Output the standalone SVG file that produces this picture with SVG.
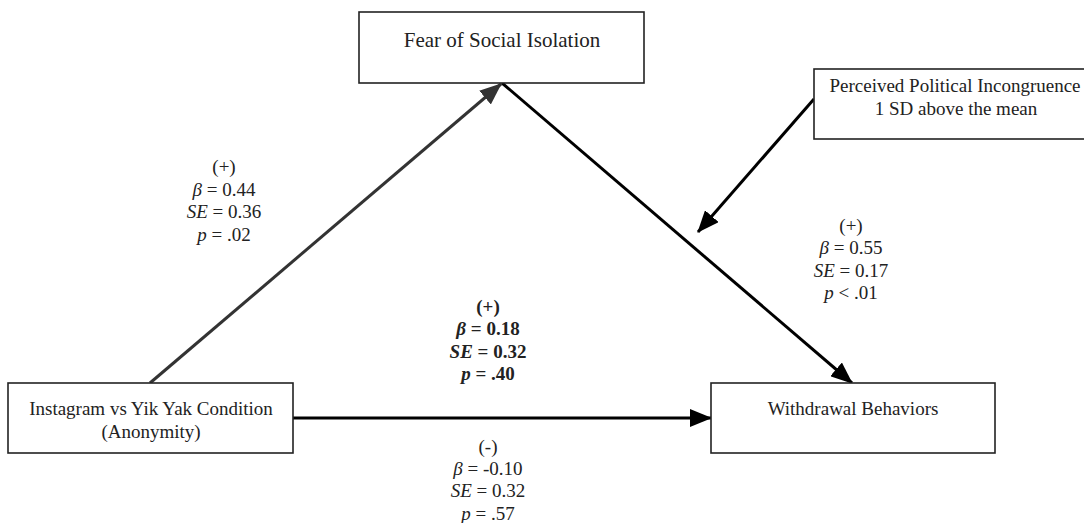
<svg xmlns="http://www.w3.org/2000/svg" width="1084" height="523" viewBox="0 0 1084 523">
<style>
text{font-family:"Liberation Serif","Times New Roman",serif;fill:#222;text-anchor:middle;font-size:19px}
.box{fill:#fff;stroke:#222;stroke-width:1.6}
.b{font-weight:bold}
.i{font-style:italic}
.edge{fill:none;stroke-width:3}
</style>
<defs>
<marker id="ah" markerWidth="22" markerHeight="18" refX="21" refY="9" orient="auto" markerUnits="userSpaceOnUse">
<path d="M0,0 L22,9 L0,18 z" fill="#000"/>
</marker>
<marker id="ahg" markerWidth="22" markerHeight="18" refX="21" refY="9" orient="auto" markerUnits="userSpaceOnUse">
<path d="M0,0 L22,9 L0,18 z" fill="#333"/>
</marker>
</defs>
<g id="connectors">
<line class="edge" x1="150" y1="383" x2="501" y2="84" stroke="#333" marker-end="url(#ahg)"/>
<line class="edge" x1="502" y1="83" x2="852" y2="383" stroke="#000" marker-end="url(#ah)"/>
<line class="edge" x1="293" y1="418" x2="711" y2="418" stroke="#000" marker-end="url(#ah)"/>
<line class="edge" x1="814" y1="99" x2="698" y2="232" stroke="#000" marker-end="url(#ah)"/>
</g>
<g id="node-fear">
<rect class="box" x="359" y="12" width="285" height="71"/>
<text x="502" y="47" style="font-size:21px">Fear of Social Isolation</text>
</g>
<g id="node-perceived">
<rect class="box" x="814" y="69" width="290" height="70"/>
<text x="955" y="92">Perceived Political Incongruence</text>
<text x="956" y="115">1 SD above the mean</text>
</g>
<g id="node-instagram">
<rect class="box" x="8" y="383" width="285" height="70"/>
<text x="151" y="415">Instagram vs Yik Yak Condition</text>
<text x="151" y="438">(Anonymity)</text>
</g>
<g id="node-withdrawal">
<rect class="box" x="711" y="383" width="284" height="70"/>
<text x="853" y="415">Withdrawal Behaviors</text>
</g>
<g id="label-a">
<text x="224" y="173">(+)</text>
<text x="224" y="196"><tspan class="i">β</tspan> = 0.44</text>
<text x="224" y="218"><tspan class="i">SE</tspan> = 0.36</text>
<text x="224" y="241"><tspan class="i">p</tspan> = .02</text>
</g>
<g id="label-b">
<text x="851" y="232">(+)</text>
<text x="851" y="254"><tspan class="i">β</tspan> = 0.55</text>
<text x="851" y="277"><tspan class="i">SE</tspan> = 0.17</text>
<text x="851" y="299"><tspan class="i">p</tspan> &lt; .01</text>
</g>
<g id="label-total">
<text x="488" y="313" class="b">(+)</text>
<text x="488" y="335" class="b"><tspan class="i">β</tspan> = 0.18</text>
<text x="488" y="358" class="b"><tspan class="i">SE</tspan> = 0.32</text>
<text x="488" y="380" class="b"><tspan class="i">p</tspan> = .40</text>
</g>
<g id="label-direct">
<text x="488" y="453">(-)</text>
<text x="488" y="475"><tspan class="i">β</tspan> = -0.10</text>
<text x="488" y="497"><tspan class="i">SE</tspan> = 0.32</text>
<text x="488" y="520"><tspan class="i">p</tspan> = .57</text>
</g>
</svg>
